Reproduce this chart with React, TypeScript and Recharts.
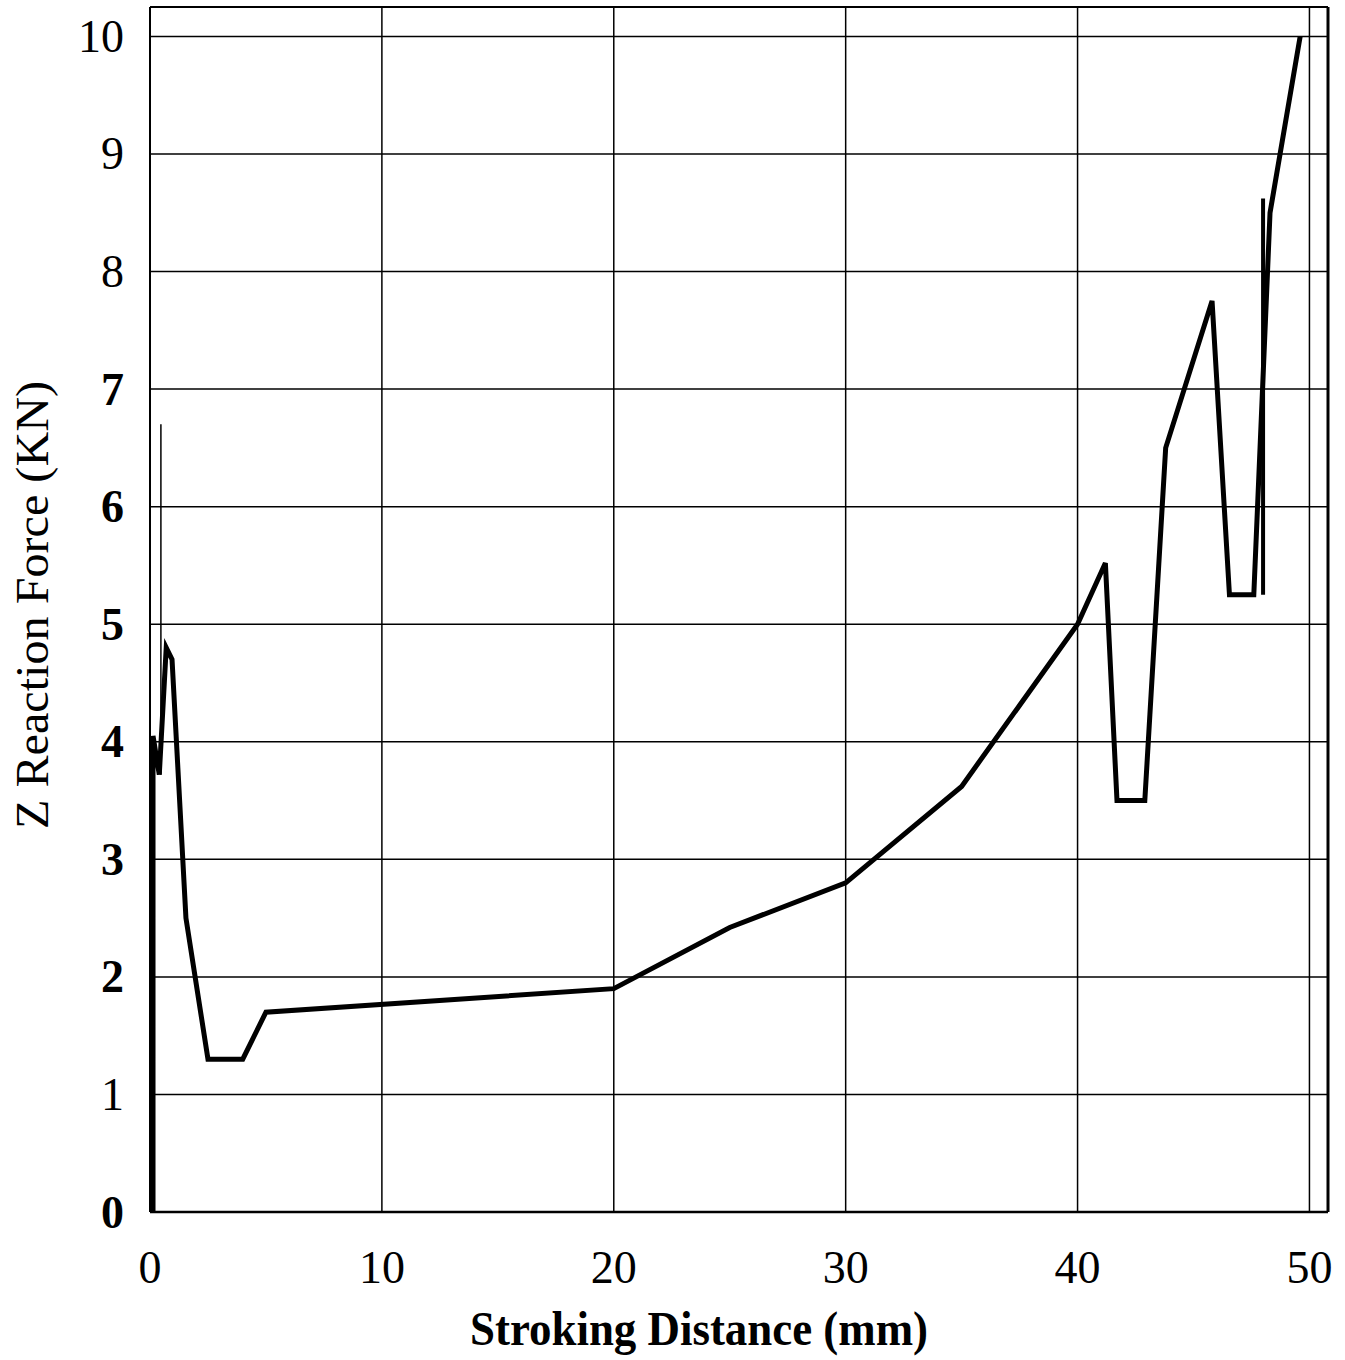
import { LineChart, Line, XAxis, YAxis, CartesianGrid, ReferenceLine, Label } from 'recharts';

// stroking distance (mm) vs Z reaction force (KN)
const strokeMm = [0.13, 0.13, 0.4, 0.7, 0.95, 1.55, 2.5, 4.0, 5.0, 20, 25, 30, 35, 40, 41.2, 41.7, 42.9, 43.8, 45.8, 46.55, 47.6, 48.3, 49.6];
const forceKn  = [0, 4.05, 3.72, 4.8, 4.7, 2.5, 1.3, 1.3, 1.7, 1.9, 2.42, 2.8, 3.62, 5.0, 5.52, 3.5, 3.5, 6.5, 7.75, 5.25, 5.25, 8.5, 10.0];

// stray vertical strokes in the original
const spikeMm = [48.0, 48.0];
const spikeKn = [5.25, 8.62];
const traceMm = [0.47, 0.47];
const traceKn = [3.72, 6.7];

const xTicks = [0, 10, 20, 30, 40, 50];
const yTicks = [0, 1, 2, 3, 4, 5, 6, 7, 8, 9, 10];

const SERIF = '"Liberation Serif", "DejaVu Serif", serif';
const boldY = new Set([0, 2, 3, 4, 5, 6, 7]);

const toRows = (xs: number[], ys: number[]) => xs.map((x, i) => ({ x, f: ys[i] }));

const XTick = ({ x, y, payload }: any) => (
  <text x={x} y={y + 53} textAnchor="middle" dominantBaseline="central"
    fontFamily={SERIF} fontSize={46} fill="#000">{payload.value}</text>
);

const YTick = ({ x, y, payload }: any) => (
  <text x={x - 24} y={y} textAnchor="end" dominantBaseline="central"
    fontFamily={SERIF} fontSize={46} fontWeight={boldY.has(payload.value) ? 700 : 400}
    fill="#000">{payload.value}</text>
);

export default function App() {
  const main  = toRows(strokeMm, forceKn);
  const spike = toRows(spikeMm, spikeKn);
  const trace = toRows(traceMm, traceKn);
  return (
    <div style={{ position: 'absolute', left: 0, top: 0, background: '#fff' }}>
      <LineChart width={1345} height={1360} margin={{ top: 7, right: 17, bottom: 0, left: 0 }}>
        <CartesianGrid stroke="#000" strokeWidth={1.5} />
        <XAxis type="number" dataKey="x" domain={[0, 50.8]} ticks={xTicks} allowDataOverflow
          height={148} tickSize={0} tickLine={false} tick={<XTick />}
          axisLine={{ stroke: '#000', strokeWidth: 2.5 }}>
          <Label content={({ viewBox }: any) => (
            <text x={viewBox.x + 549} y={viewBox.y + 133} textAnchor="middle"
              fontFamily={SERIF} fontSize={48} fontWeight={700} fill="#000"
              textLength={458} lengthAdjust="spacingAndGlyphs">
              Stroking  Distance  (mm)
            </text>
          )} />
        </XAxis>
        <YAxis type="number" domain={[0, 10.25]} ticks={yTicks} allowDataOverflow
          width={150} tickSize={0} tickLine={false} tick={<YTick />}
          axisLine={{ stroke: '#000', strokeWidth: 2 }}>
          <Label content={({ viewBox }: any) => (
            <text x={0} y={0} transform={`translate(${viewBox.x + 48}, 605) rotate(-90)`}
              textAnchor="middle" fontFamily={SERIF} fontSize={46} fill="#000"
              textLength={448} lengthAdjust="spacingAndGlyphs">
              Z Reaction Force (KN)
            </text>
          )} />
        </YAxis>
        <ReferenceLine x={50.8} stroke="#000" strokeWidth={3} />
        <ReferenceLine y={10.25} stroke="#000" strokeWidth={2} />
        <Line data={trace} dataKey="f" type="linear" stroke="#000" strokeWidth={1.5}
          dot={false} isAnimationActive={false} />
        <Line data={spike} dataKey="f" type="linear" stroke="#000" strokeWidth={4}
          dot={false} isAnimationActive={false} />
        <Line data={main} dataKey="f" type="linear" stroke="#000" strokeWidth={5}
          strokeLinejoin="miter" dot={false} isAnimationActive={false} />
      </LineChart>
    </div>
  );
}
